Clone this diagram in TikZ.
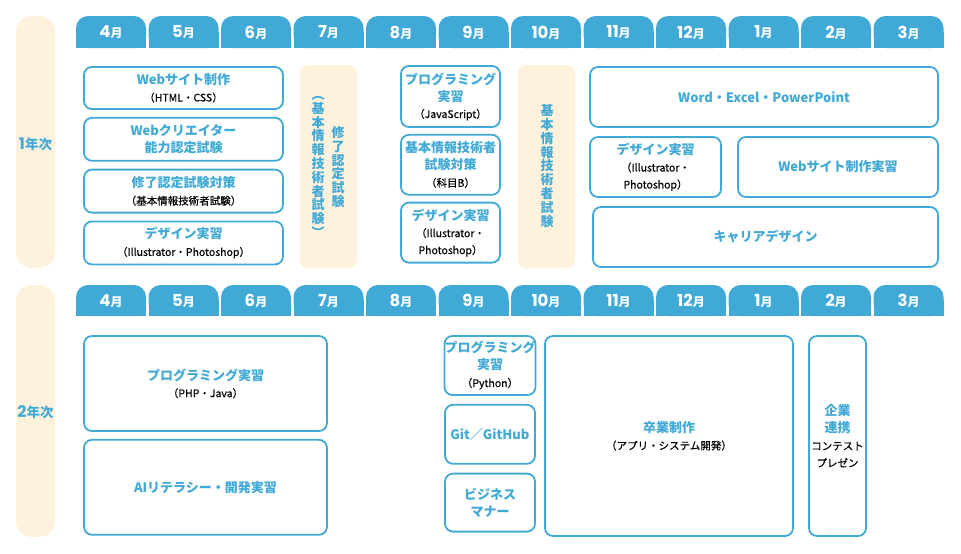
\documentclass[tikz,border=0pt]{standalone}
\usepackage{fontspec}
\setmainfont{Noto Sans CJK JP}
\newfontfamily\numfont{Poppins}
\newfontfamily\subfont{Noto Sans CJK JP}[FakeBold=0.5]
\usetikzlibrary{positioning}
\definecolor{cBlue}{RGB}{64,169,214}
\definecolor{cCream}{RGB}{254,242,221}
\tikzset{
  planbox/.style={rectangle,rounded corners=8pt,draw=cBlue,line width=1.8pt,
                  fill=white,align=center,inner sep=0pt,
                  font=\fontsize{13}{17}\selectfont},
  examcol/.style={rectangle,rounded corners=8pt,fill=cCream,
                  minimum width=57pt,minimum height=203pt},
  yearcol/.style={rectangle,rounded corners=16pt,fill=cCream,
                  minimum width=39pt,minimum height=252pt},
  yeartxt/.style={text=cBlue,inner sep=0pt,font=\bfseries\fontsize{13.5}{14}\selectfont},
  tabtxt/.style={text=white,inner sep=0pt},
  vtext/.style={align=center,text=cBlue,inner sep=0pt,
                font=\bfseries\fontsize{13}{13.8}\selectfont}
}
\newcommand{\ttl}[1]{\textcolor{cBlue}{\bfseries #1}}
\newcommand{\sbt}[1]{{\subfont\fontsize{10.5}{17}\selectfont #1}}
\newcommand{\mon}[1]{{\numfont\bfseries\fontsize{16.5}{16}\selectfont #1}{\bfseries\fontsize{12}{12}\selectfont 月}}
\newcommand{\yr}[1]{{\numfont\bfseries\fontsize{16}{16}\selectfont #1}年次}

\begin{document}
\begin{tikzpicture}[x=1pt,y=-1pt]
  \useasboundingbox (0,0) rectangle (961,554);

  % year columns
  \node[yearcol] (y1) at (35.5,142) {};
  \node[yeartxt] (y1t) at (35.5,144) {\yr{1}};
  \node[yearcol] (y2) at (35.5,411) {};
  \node[yeartxt] (y2t) at (35.5,412) {\yr{2}};

  % month tabs
  \foreach \m [count=\i from 0] in {4,5,6,7,8,9,10,11,12,1,2,3} {
    \fill[cBlue,rounded corners=12pt] (76+72.5*\i,16) rectangle ++(70,32);
    \fill[cBlue] (76+72.5*\i,32) rectangle ++(70,16);
    \node[tabtxt] (ta\i) at (111+72.5*\i,32.5) {\mon{\m}};
    \fill[cBlue,rounded corners=12pt] (76+72.5*\i,285) rectangle ++(70,31);
    \fill[cBlue] (76+72.5*\i,300) rectangle ++(70,16);
    \node[tabtxt] (tb\i) at (111+72.5*\i,301) {\mon{\m}};
  }

  % 1st year
  \node[planbox,minimum width=199pt,minimum height=42pt] (webA) at (183.5,88)
      {\ttl{Webサイト制作}\\ \sbt{（HTML・CSS）}};
  \node[planbox,minimum width=199pt,minimum height=43pt,below=7pt of webA] (creA)
      {\ttl{Webクリエイター}\\ \ttl{能力認定試験}};
  \node[planbox,minimum width=199pt,minimum height=43pt,below=7pt of creA] (shuA)
      {\ttl{修了認定試験対策}\\ \sbt{（基本情報技術者試験）}};
  \node[planbox,minimum width=199pt,minimum height=43pt,below=7pt of shuA] (desA)
      {\ttl{デザイン実習}\\ \sbt{（Illustrator・Photoshop）}};

  \node[examcol] (examJ) at (328.5,166.5) {};
  \node[vtext] (examJr) at (338,167) {修\\了\\認\\定\\試\\験};
  \node[vtext] (examJl) at (318,167) {︵\\基\\本\\情\\報\\技\\術\\者\\試\\験\\︶};

  \node[planbox,minimum width=99pt,minimum height=61pt] (progA) at (450.5,96.5)
      {\ttl{プログラミング}\\ \ttl{実習}\\ \sbt{（JavaScript）}};
  \node[planbox,minimum width=99pt,minimum height=60pt,below=6pt of progA] (kihonA)
      {\ttl{基本情報技術者}\\ \ttl{試験対策}\\ \sbt{（科目B）}};
  \node[planbox,minimum width=99pt,minimum height=60pt,below=6pt of kihonA] (desB)
      {\ttl{デザイン実習}\\ \sbt{（Illustrator・}\\ \sbt{Photoshop）}};

  \node[examcol] (examO) at (546.5,166.5) {};
  \node[vtext] (examOt) at (547,166) {基\\本\\情\\報\\技\\術\\者\\試\\験};

  \node[planbox,minimum width=348pt,minimum height=60pt] (office) at (764,97)
      {\ttl{Word・Excel・PowerPoint}};
  \node[planbox,minimum width=131pt,minimum height=60pt] (desC) at (655.5,167)
      {\ttl{デザイン実習}\\ \sbt{（Illustrator・}\\ \sbt{Photoshop）}};
  \node[planbox,minimum width=200pt,minimum height=60pt] (webB) at (838,167)
      {\ttl{Webサイト制作実習}};
  \node[planbox,minimum width=345pt,minimum height=60pt] (career) at (765.5,237)
      {\ttl{キャリアデザイン}};

  % 2nd year
  \node[planbox,minimum width=243pt,minimum height=95pt] (progB) at (205.5,383.5)
      {\ttl{プログラミング実習}\\ \sbt{（PHP・Java）}};
  \node[planbox,minimum width=243pt,minimum height=95pt,below=7pt of progB] (aiB)
      {\ttl{AIリテラシー・開発実習}};

  \node[planbox,minimum width=90pt,minimum height=59pt] (pyB) at (490,365.5)
      {\ttl{プログラミング}\\ \ttl{実習}\\ \sbt{（Python）}};
  \node[planbox,minimum width=90pt,minimum height=59pt,below=8pt of pyB] (gitB)
      {\ttl{Git／GitHub}};
  \node[planbox,minimum width=90pt,minimum height=58pt,below=8pt of gitB] (bizB)
      {\ttl{ビジネス}\\ \ttl{マナー}};

  \node[planbox,minimum width=248pt,minimum height=200pt] (gradB) at (669,436)
      {\ttl{卒業制作}\\ \sbt{（アプリ・システム開発）}};
  \node[planbox,minimum width=57pt,minimum height=200pt] (corpB) at (837.5,436)
      {\ttl{企業}\\ \ttl{連携}\\ \sbt{コンテスト}\\ \sbt{プレゼン}};

\end{tikzpicture}
\end{document}
